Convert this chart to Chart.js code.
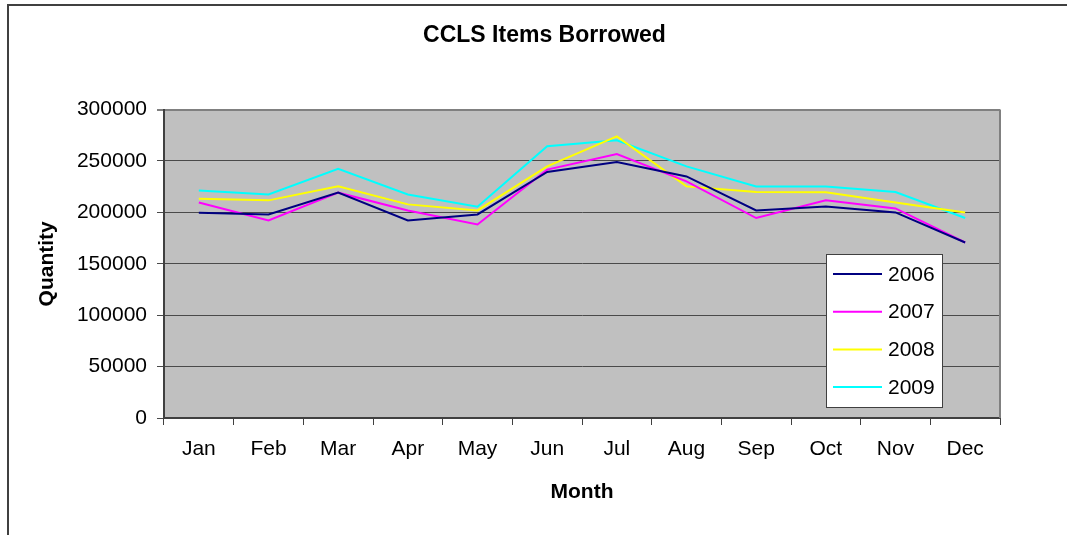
<!DOCTYPE html>
<html>
<head>
<meta charset="utf-8">
<script src="https://cdn.jsdelivr.net/npm/chart.js@4/dist/chart.umd.min.js"></script>
<style>
  html, body { margin: 0; padding: 0; background: #fff; }
  #wrap { width: 1067px; height: 535px; position: relative; }
</style>
</head>
<body>
<div id="wrap"><canvas id="chart"></canvas></div>
<script>
const months = ['Jan', 'Feb', 'Mar', 'Apr', 'May', 'Jun', 'Jul', 'Aug', 'Sep', 'Oct', 'Nov', 'Dec'];
const y2006 = [199700, 198000, 219200, 192200, 198000, 239300, 249000, 235000, 201900, 205800, 200000, 170700];
const y2007 = [209700, 192200, 219200, 201900, 188300, 241600, 256800, 230200, 194500, 211700, 203900, 170700];
const y2008 = [213300, 211700, 225300, 207800, 201900, 244800, 274000, 225300, 219800, 219500, 209700, 200000];
const y2009 = [221400, 217500, 242500, 217500, 205500, 264300, 270100, 244800, 225300, 225300, 219800, 194500];
const yTicks = [0, 50000, 100000, 150000, 200000, 250000, 300000];

const font = 'Liberation Sans, Arial, sans-serif';

// grey plot background, frame round the page, right border of the plot
const plotFrame = {
    id: 'plotFrame',
    beforeDraw(chart) {
        const { ctx, chartArea: a } = chart;
        ctx.save();
        ctx.fillStyle = '#fff';
        ctx.fillRect(0, 0, chart.width, chart.height);
        ctx.fillStyle = '#c0c0c0';
        ctx.fillRect(a.left, a.top, a.right - a.left, a.bottom - a.top);
        ctx.strokeStyle = '#404040';
        ctx.lineWidth = 2;
        ctx.beginPath();
        ctx.moveTo(8, chart.height);
        ctx.lineTo(8, 5);
        ctx.lineTo(chart.width, 5);
        ctx.stroke();
        ctx.restore();
    },
    afterDraw(chart) {
        const { ctx, chartArea: a } = chart;
        ctx.save();
        ctx.strokeStyle = '#808080';
        ctx.lineWidth = 2;
        ctx.beginPath();
        ctx.moveTo(a.right, a.top);
        ctx.lineTo(a.right, a.bottom);
        ctx.stroke();
        ctx.restore();
    }
};

// boxed legend inside the plot, like the spreadsheet one
const boxLegend = {
    id: 'boxLegend',
    afterDatasetsDraw(chart) {
        const { ctx } = chart;
        const x = 826, y = 254, w = 116, h = 153;
        ctx.save();
        ctx.fillStyle = '#fff';
        ctx.fillRect(x, y, w, h);
        ctx.strokeStyle = '#404040';
        ctx.lineWidth = 1;
        ctx.strokeRect(x + 0.5, y + 0.5, w, h);
        ctx.font = '21px ' + font;
        ctx.textBaseline = 'middle';
        chart.data.datasets.forEach((ds, i) => {
            const ly = y + 20 + i * 37.7;
            ctx.strokeStyle = ds.borderColor;
            ctx.lineWidth = 2;
            ctx.beginPath();
            ctx.moveTo(x + 7, ly);
            ctx.lineTo(x + 56, ly);
            ctx.stroke();
            ctx.fillStyle = '#000';
            ctx.fillText(ds.label, x + 62, ly + 1);
        });
        ctx.restore();
    }
};

function line(label, values, color) {
    return {
        label: label,
        data: values,
        borderColor: color,
        backgroundColor: color,
        borderWidth: 2,
        pointRadius: 0,
        tension: 0,
        fill: false
    };
}

new Chart(document.getElementById('chart'), {
    type: 'line',
    data: {
        labels: months,
        datasets: [
            line('2006', y2006, '#000080'),
            line('2007', y2007, '#ff00ff'),
            line('2008', y2008, '#ffff00'),
            line('2009', y2009, '#00ffff')
        ]
    },
    options: {
        responsive: true,
        maintainAspectRatio: false,
        animation: false,
        layout: { padding: { left: 22, right: 0, top: 0, bottom: 0 } },
        plugins: {
            legend: { display: false },
            tooltip: { enabled: false },
            title: {
                display: true,
                text: 'CCLS Items Borrowed',
                color: '#000',
                font: { family: font, size: 23, weight: 'bold' },
                padding: { top: 22, bottom: 60 }
            }
        },
        scales: {
            x: {
                offset: true,
                afterFit(scale) { scale.height = 117; },
                grid: {
                    offset: true,
                    drawOnChartArea: false,
                    tickLength: 7,
                    color: '#404040'
                },
                border: { color: '#404040', width: 2 },
                ticks: {
                    color: '#000',
                    font: { family: font, size: 21 },
                    padding: 12,
                    maxRotation: 0
                },
                title: {
                    display: true,
                    text: 'Month',
                    color: '#000',
                    font: { family: font, size: 21, weight: 'bold' },
                    padding: { top: 0, bottom: 30 }
                }
            },
            y: {
                min: yTicks[0],
                max: yTicks[yTicks.length - 1],
                afterFit(scale) { scale.width = 142; },
                afterBuildTicks(scale) { scale.ticks = yTicks.map(v => ({ value: v })); },
                grid: {
                    tickLength: 7,
                    color: ctx => (ctx.tick && ctx.tick.value === 300000) ? '#808080' : '#4a4a4a',
                    lineWidth: ctx => (ctx.tick && ctx.tick.value === 300000) ? 2 : 1
                },
                border: { color: '#404040', width: 2 },
                ticks: {
                    color: '#000',
                    font: { family: font, size: 21 },
                    padding: 10,
                    callback: v => String(v)
                },
                title: {
                    display: true,
                    text: 'Quantity',
                    color: '#000',
                    font: { family: font, size: 21, weight: 'bold' },
                    padding: { top: 13, bottom: 0 }
                }
            },
            // empty right-hand axis, only to keep the margin right of the plot
            yRight: {
                position: 'right',
                min: yTicks[0],
                max: yTicks[yTicks.length - 1],
                afterFit(scale) { scale.width = 67; },
                grid: { display: false, drawTicks: false },
                border: { display: false },
                ticks: { display: false }
            }
        }
    },
    plugins: [plotFrame, boxLegend]
});
</script>
</body>
</html>
